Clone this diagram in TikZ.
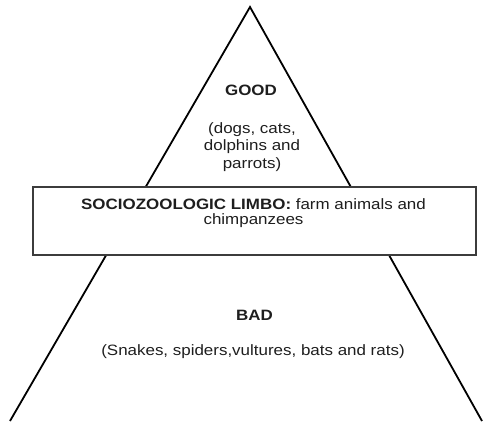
\documentclass[tikz,border=0pt]{standalone}
\usepackage{fontspec}
\setmainfont{Liberation Sans}[FakeStretch=1.13]
\usetikzlibrary{positioning}
\definecolor{cText}{RGB}{30,30,30}
\definecolor{cFrame}{RGB}{60,60,60}
\tikzset{
	pyramid/.style ={draw=black, line width=1.8pt},
	limbobox/.style={rectangle, draw=cFrame, line width=2.4pt, fill=white, minimum width=443pt, minimum height=68pt, inner sep=0pt},
	tier/.style    ={font=\fontsize{15}{17.5}\selectfont\bfseries, text=cText, inner sep=0pt, anchor=base},
	members/.style ={text=cText, align=center, inner sep=0pt, anchor=base},
}

\begin{document}
\begin{tikzpicture}[x=1pt, y=-1pt, font=\fontsize{15}{17.5}\selectfont]
	\useasboundingbox (0,0) rectangle (484,421);
	% pyramid outline
	\coordinate (apex) at (250,7);
	\coordinate (baseL) at (10,421);
	\coordinate (baseR) at (482,421);
	\draw[pyramid] (baseL) -- (apex) -- (baseR);
	% top tier
	\node[tier] (good) at (251,95) {GOOD};
	\node[members] (goodlist) at (252,168) {(dogs, cats,\\ dolphins and\\ parrots)};
	% middle band
	\node[limbobox] (limbo) at (254.5,221) {};
	\node[members, font=\fontsize{15}{15}\selectfont] (limbotxt) at (253.5,224) {\textbf{SOCIOZOOLOGIC LIMBO:} farm animals and\\ chimpanzees};
	% bottom tier
	\node[tier] (bad) at (254.5,320) {BAD};
	\node[members] (badlist) at (253,355) {(Snakes, spiders,vultures, bats and rats)};
\end{tikzpicture}
\end{document}
